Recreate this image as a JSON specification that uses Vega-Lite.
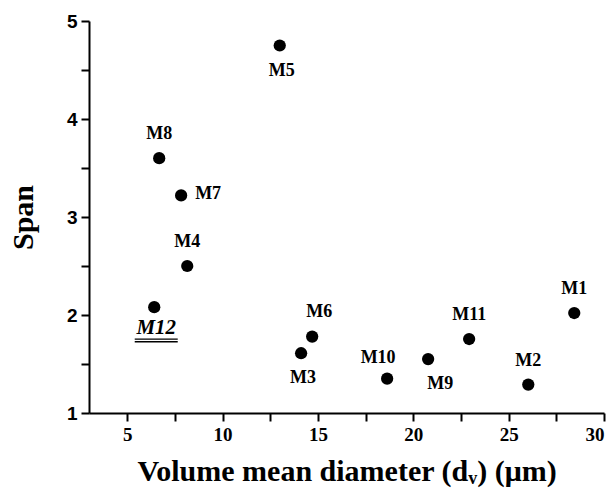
{
  "$schema": "https://vega.github.io/schema/vega-lite/v6.json",
  "width": 515,
  "height": 392,
  "autosize": {"type": "none"},
  "padding": {"left": 89, "top": 21, "right": 12, "bottom": 79},
  "background": "white",
  "config": {
    "view": {"stroke": null}
  },
  "data": {"values": [
    {"sample": "M1", "d": 28.44, "span": 2.02},
    {"sample": "M2", "d": 26.03, "span": 1.29},
    {"sample": "M3", "d": 14.12, "span": 1.61},
    {"sample": "M4", "d": 8.15, "span": 2.5},
    {"sample": "M5", "d": 13.0, "span": 4.75},
    {"sample": "M6", "d": 14.7, "span": 1.78},
    {"sample": "M7", "d": 7.83, "span": 3.22},
    {"sample": "M8", "d": 6.68, "span": 3.6},
    {"sample": "M9", "d": 20.78, "span": 1.55},
    {"sample": "M10", "d": 18.63, "span": 1.35},
    {"sample": "M11", "d": 22.93, "span": 1.755},
    {"sample": "M12", "d": 6.42, "span": 2.08}
  ]},
  "encoding": {
    "x": {"field": "d", "type": "quantitative", "scale": {"domain": [3, 30], "nice": false, "zero": false},
      "axis": {"orient": "bottom", "grid": false, "values": [5, 7.5, 10, 12.5, 15, 17.5, 20, 22.5, 25, 27.5, 30],
        "ticks": true, "tickSize": 8, "tickColor": "black", "tickWidth": 2, "tickOpacity": 1,
        "domainColor": "black", "domainWidth": 2,
        "encode": {"ticks": {"update": {"y2": {"signal": "datum.value % 5 === 0 ? 8 : 5"}}}},
        "labelExpr": "datum.value % 5 === 0 ? format(datum.value, 'd') : ''",
        "labelColor": "black", "labelFont": "Liberation Serif", "labelFontWeight": "bold", "labelFontSize": 19, "labelPadding": 4,
        "title": "Volume mean diameter (dᵥ) (μm)", "titleColor": "black", "titleFont": "Liberation Serif", "titleFontWeight": "bold", "titleFontSize": 30, "titlePadding": 12}},
    "y": {"field": "span", "type": "quantitative", "scale": {"domain": [1, 5], "nice": false, "zero": false},
      "axis": {"orient": "left", "grid": false, "values": [1, 1.5, 2, 2.5, 3, 3.5, 4, 4.5, 5],
        "ticks": true, "tickSize": 8, "tickColor": "black", "tickWidth": 2, "tickOpacity": 1,
        "domainColor": "black", "domainWidth": 2,
        "encode": {"ticks": {"update": {"x2": {"signal": "datum.value % 1 === 0 ? -8 : -5"}}}},
        "labelExpr": "datum.value % 1 === 0 ? format(datum.value, 'd') : ''",
        "labelColor": "black", "labelFont": "Liberation Sans", "labelFontWeight": "bold", "labelFontSize": 19, "labelPadding": 4,
        "title": "Span", "titleColor": "black", "titleFont": "Liberation Serif", "titleFontWeight": "bold", "titleFontSize": 30, "titlePadding": 28}}
  },
  "layer": [
    {
      "mark": {"type": "point", "filled": true, "color": "black", "opacity": 1, "size": 150}
    },
    {
      "transform": [{"filter": {"field": "sample", "oneOf": ["M8", "M4", "M11", "M2", "M1"]}}],
      "mark": {"type": "text", "font": "Liberation Serif", "fontWeight": "bold", "fontSize": 18, "color": "black", "baseline": "middle", "align": "center", "dy": -24},
      "encoding": {"text": {"field": "sample"}}
    },
    {
      "transform": [{"filter": {"field": "sample", "equal": "M6"}}],
      "mark": {"type": "text", "font": "Liberation Serif", "fontWeight": "bold", "fontSize": 18, "color": "black", "baseline": "middle", "align": "center", "dx": 7, "dy": -25},
      "encoding": {"text": {"field": "sample"}}
    },
    {
      "transform": [{"filter": {"field": "sample", "equal": "M10"}}],
      "mark": {"type": "text", "font": "Liberation Serif", "fontWeight": "bold", "fontSize": 18, "color": "black", "baseline": "middle", "align": "center", "dx": -9, "dy": -21},
      "encoding": {"text": {"field": "sample"}}
    },
    {
      "transform": [{"filter": {"field": "sample", "oneOf": ["M5", "M3"]}}],
      "mark": {"type": "text", "font": "Liberation Serif", "fontWeight": "bold", "fontSize": 18, "color": "black", "baseline": "middle", "align": "center", "dx": 2, "dy": 25},
      "encoding": {"text": {"field": "sample"}}
    },
    {
      "transform": [{"filter": {"field": "sample", "equal": "M9"}}],
      "mark": {"type": "text", "font": "Liberation Serif", "fontWeight": "bold", "fontSize": 18, "color": "black", "baseline": "middle", "align": "center", "dx": 12, "dy": 25},
      "encoding": {"text": {"field": "sample"}}
    },
    {
      "transform": [{"filter": {"field": "sample", "equal": "M7"}}],
      "mark": {"type": "text", "font": "Liberation Serif", "fontWeight": "bold", "fontSize": 18, "color": "black", "baseline": "middle", "align": "left", "dx": 14, "dy": -1},
      "encoding": {"text": {"field": "sample"}}
    },
    {
      "transform": [{"filter": {"field": "sample", "equal": "M12"}}],
      "mark": {"type": "text", "font": "Liberation Serif", "fontWeight": "bold", "fontStyle": "italic", "fontSize": 21, "color": "black", "baseline": "middle", "align": "center", "dx": 2, "dy": 21},
      "encoding": {"text": {"field": "sample"}}
    },
    {
      "transform": [{"filter": {"field": "sample", "equal": "M12"}}],
      "mark": {"type": "point", "shape": "M-1,0L1,0M-1,0.12L1,0.12", "filled": false, "stroke": "black", "strokeWidth": 1.3, "opacity": 1, "size": 1849, "xOffset": 2, "yOffset": 32}
    }
  ]
}
